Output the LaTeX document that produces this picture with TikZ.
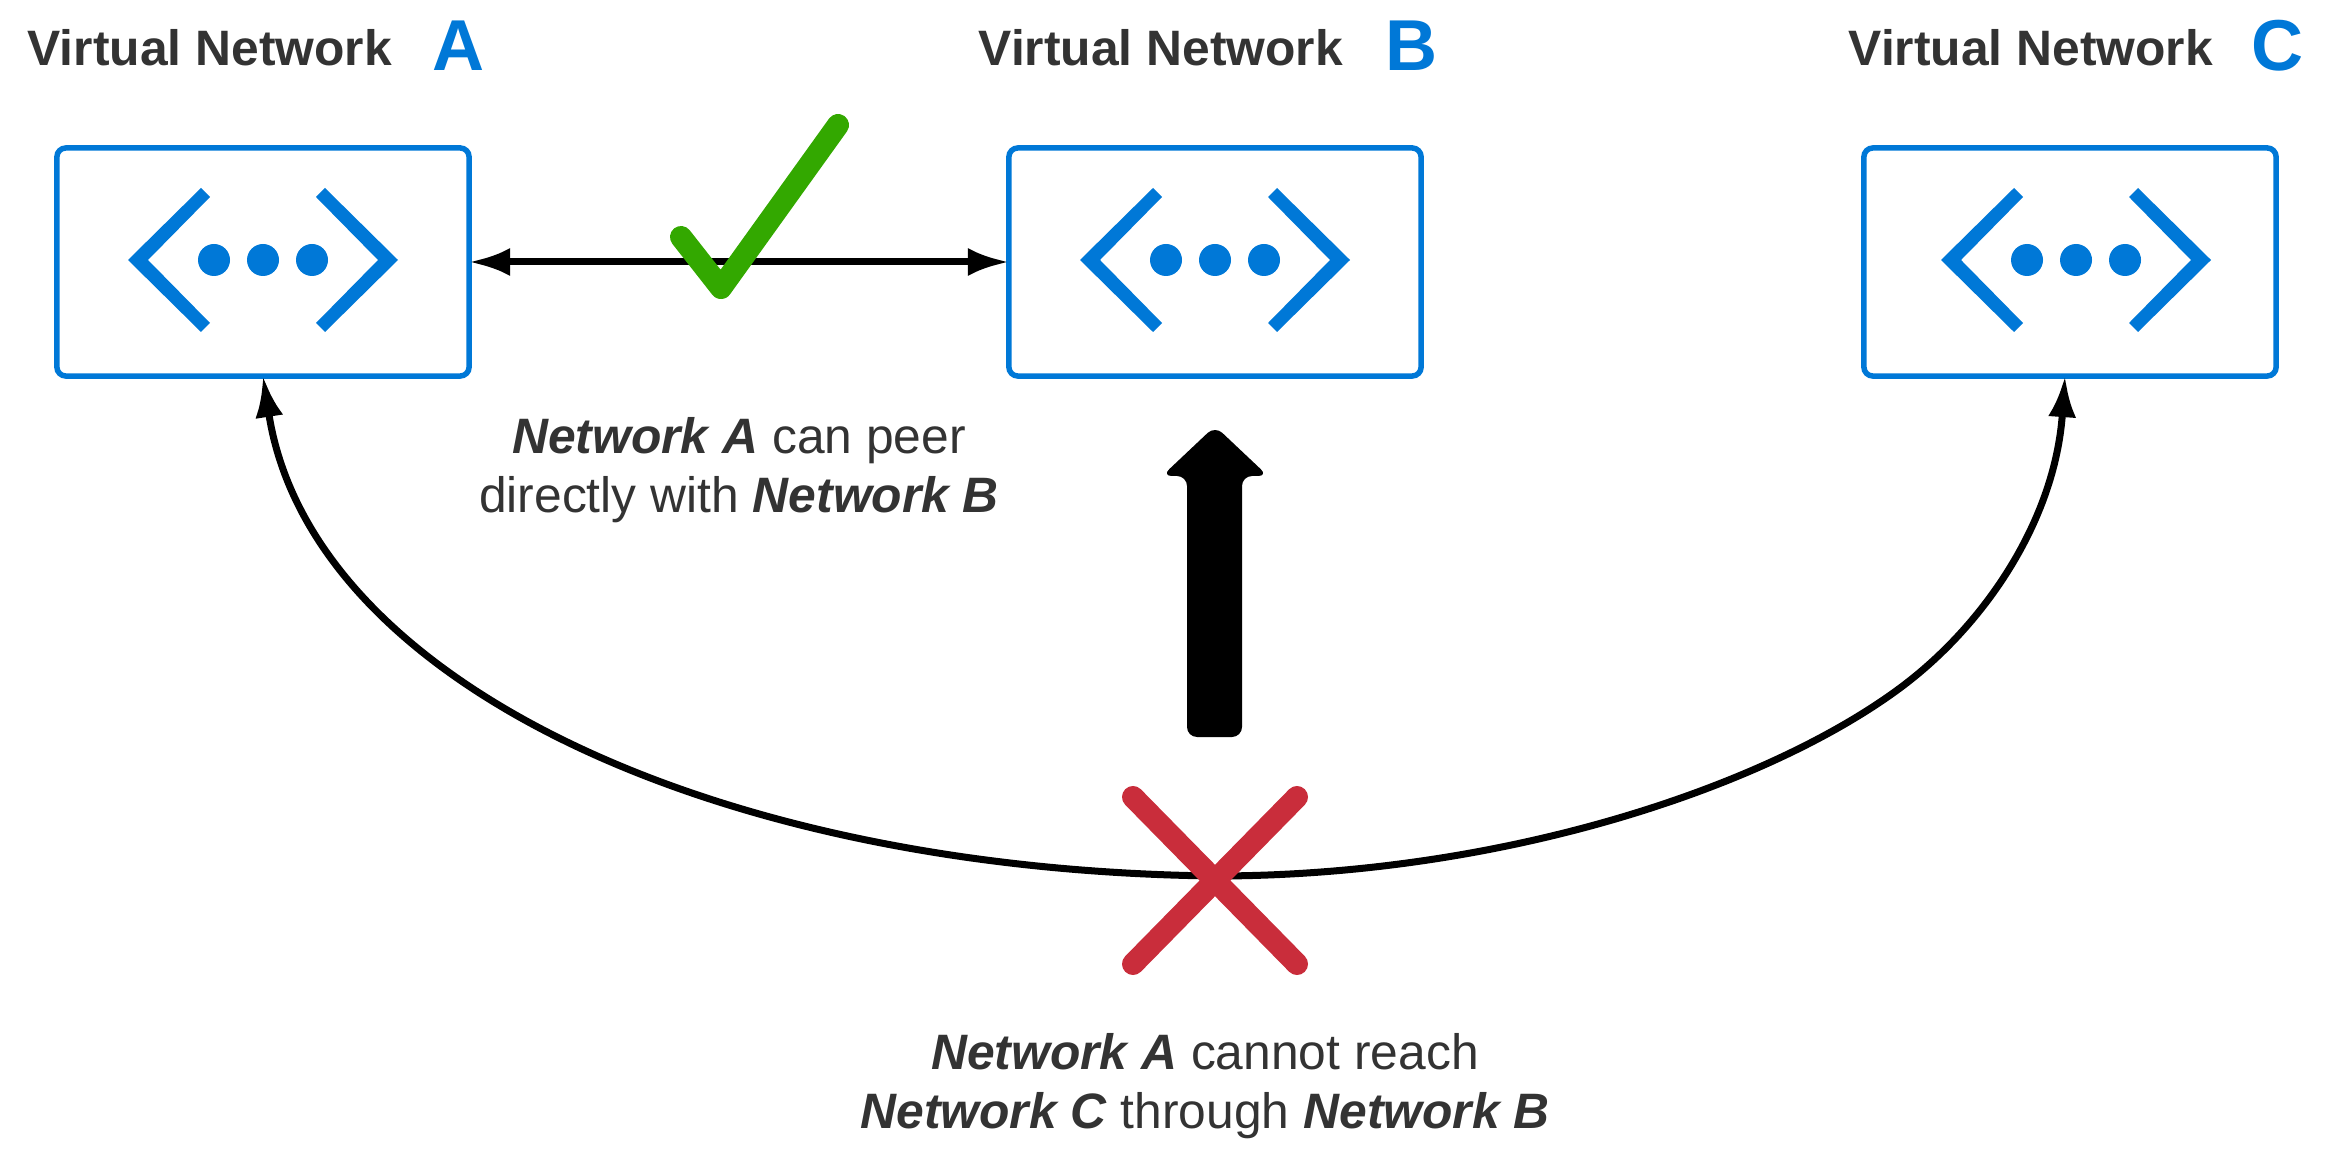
\documentclass[tikz,border=0pt]{standalone}
\usepackage{fontspec}
\setmainfont{Liberation Sans}
\usetikzlibrary{arrows.meta}
\definecolor{netblue}{HTML}{0078D7}
\definecolor{textgrey}{HTML}{333333}
\definecolor{okgreen}{HTML}{33A800}
\definecolor{badred}{HTML}{C92D3B}
\begin{document}
\begin{tikzpicture}[x=0.01cm,y=-0.01cm,
    netbox/.style={draw=netblue,line width=0.055cm,rounded corners=0.09cm,minimum width=4.12cm,minimum height=2.28cm,inner sep=0,outer sep=0},
    nettitle/.style={anchor=base west,inner sep=0,text=textgrey,font=\fontsize{14.15}{17}\selectfont\bfseries},
    netletter/.style={anchor=base west,inner sep=0,text=netblue,font=\fontsize{20.5}{24}\selectfont\bfseries},
    note/.style={align=center,inner sep=0,text=textgrey,font=\fontsize{14.15}{16.8}\selectfont},
    link/.style={line width=0.07cm,{Latex[length=0.41cm,width=0.28cm]}-{Latex[length=0.41cm,width=0.28cm]}}]
  \useasboundingbox (0,0) rectangle (2327,1161);
  % networks
  \foreach \name/\cx/\ix/\tx/\lx in {A/263/263/27/432,B/1215/1215/978/1385,C/2070/2076/1848/2251}{
    \node[netbox] (net\name) at (\cx,262) {};
    \node[nettitle] (title\name) at (\tx,66) {Virtual Network};
    \node[netletter] (letter\name) at (\lx,71) {\name};
    \begin{scope}[shift={(\ix,260)}]
      \foreach \s in {1,-1}{
        \fill[netblue,xscale=\s] (-135,0)--(-62,-72)--(-53,-63)--(-115,0)--(-53,63)--(-62,72)--cycle;
      }
      \foreach \k in {-1,0,1}{
        \fill[netblue] (49*\k,0) circle (16);
      }
    \end{scope}
  }
  % direct peering
  \draw[link] (netA.east) -- (netB.west);
  \draw[okgreen,line width=0.22cm,line cap=round,line join=round] (681,237)--(721,288)--(838,125);
  \node[note] (peernote) at (739,470) {\textbf{\textit{Network A}} can peer\\directly with \textbf{\textit{Network B}}};
  % no transit through B
  \coordinate (low) at (1215,876);
  \coordinate (bend) at (1900,688);
  \draw[link] (netA.south) .. controls (310,680) and (710,870) .. (low) .. controls (1500,876) and (1765,788) .. (bend) .. controls (1985,625) and (2055,520) .. ([xshift=-0.05cm]netC.south);
  \draw[badred,line width=0.22cm,line cap=round] (1133,797)--(1297,964) (1133,964)--(1297,797);
  \fill[rounded corners=0.1cm] (1187,737)--(1187,476)--(1162,476)--(1215,426)--(1268,476)--(1242,476)--(1242,737)--cycle;
  \node[note] (transitnote) at (1205,1086) {\textbf{\textit{Network A}} cannot reach\\\textbf{\textit{Network C}} through \textbf{\textit{Network B}}};
\end{tikzpicture}
\end{document}
